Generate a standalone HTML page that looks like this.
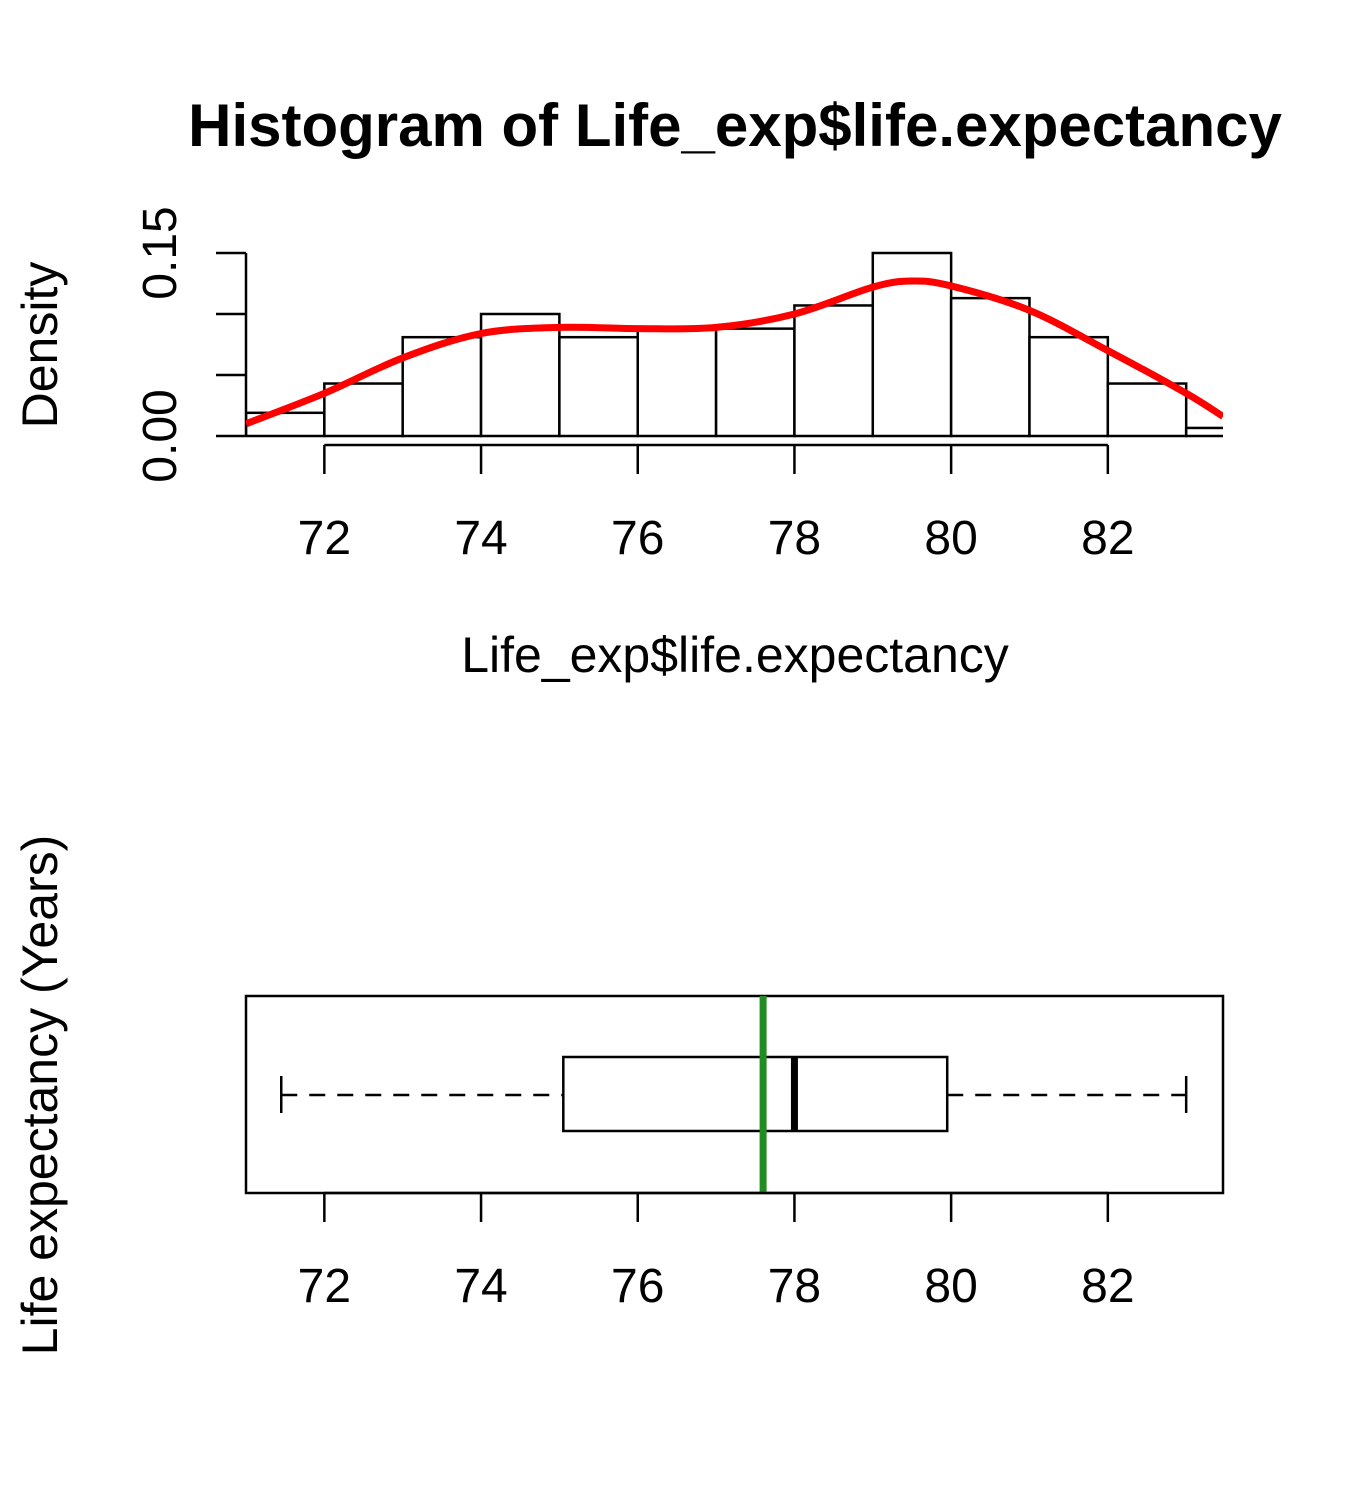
<!DOCTYPE html>
<html><head><meta charset="utf-8"><style>
html,body{margin:0;padding:0;background:#fff;}
svg{display:block;font-family:"Liberation Sans",Arial,sans-serif;}
</style></head><body>
<svg id="chart" width="1350" height="1500" viewBox="0 0 1350 1500" xmlns="http://www.w3.org/2000/svg">
<text x="735" y="146" font-size="60" font-weight="bold" text-anchor="middle">Histogram of Life_exp$life.expectancy</text>
<text x="735" y="672" font-size="50" text-anchor="middle">Life_exp$life.expectancy</text>
<text transform="translate(57,345) rotate(-90)" font-size="50" text-anchor="middle">Density</text>
<text transform="translate(57,1095) rotate(-90)" font-size="50" text-anchor="middle">Life expectancy (Years)</text>
<g id="hist"></g>
<g id="box"></g>
</svg>
<script>
const binStarts=[71,72,73,74,75,76,77,78,79,80,81,82,83];
const densities=[0.019,0.043,0.081,0.10,0.081,0.087,0.088,0.107,0.15,0.113,0.081,0.043,0.0066];
const curveX=[71,72,73,74,75,76,77,78,79,79.5,80,81,82,83,83.47];
const curveY=[0.010,0.035,0.064,0.084,0.089,0.088,0.089,0.100,0.122,0.127,0.123,0.103,0.070,0.035,0.016];
const xTicks=[72,74,76,78,80,82];
const yTicks=[0,0.05,0.10,0.15];
const yTickLabels=["0.00","0.15"];
const boxStats=[71.45,75.05,78.0,79.95,83.0];
const meanValue=77.6;

const NS="http://www.w3.org/2000/svg";
const X0=71,X1=83.47,PX0=246,PX1=1223;
const x=v=>PX0+(v-X0)*(PX1-PX0)/(X1-X0);
const y=d=>436-d*1220;
function mk(tag,attrs,parent){const e=document.createElementNS(NS,tag);for(const k in attrs)e.setAttribute(k,attrs[k]);parent.appendChild(e);return e;}
const H=document.getElementById('hist'),B=document.getElementById('box');
const clip=mk('clipPath',{id:'pc'},document.getElementById('chart'));
mk('rect',{x:PX0,y:0,width:PX1-PX0,height:1500},clip);
const bars=mk('g',{'clip-path':'url(#pc)'},H);
binStarts.forEach((s,i)=>{const r=mk('rect',{x:x(s),y:y(densities[i]),width:x(s+1)-x(s),height:y(0)-y(densities[i]),fill:'#fff',stroke:'#000','stroke-width':2.5},bars);

});
let ya=mk('line',{x1:PX0,x2:PX0,y1:y(0),y2:y(0.15),stroke:'#000','stroke-width':2.5},H);

yTicks.forEach(t=>{mk('line',{x1:216,x2:PX0,y1:y(t),y2:y(t),stroke:'#000','stroke-width':2.5},H);});
[0,0.15].forEach((t,i)=>{const tx=mk('text',{transform:`translate(176,${y(t)}) rotate(-90)`,'font-size':48,'text-anchor':'middle'},H);tx.textContent=yTickLabels[i];
});
function xAxis(g,ly,labY){
 const a=mk('line',{x1:x(xTicks[0]),x2:x(xTicks[xTicks.length-1]),y1:ly,y2:ly,stroke:'#000','stroke-width':2.5},g);
 
 xTicks.forEach(t=>{mk('line',{x1:x(t),x2:x(t),y1:ly,y2:ly+29,stroke:'#000','stroke-width':2.5},g);
  const tx=mk('text',{x:x(t),y:labY,'font-size':48,'text-anchor':'middle'},g);tx.textContent=t;
  });
}
xAxis(H,445,554);
const pts=curveX.map((v,i)=>[x(v),y(curveY[i])]);
let d='M'+pts[0][0]+','+pts[0][1];
for(let i=0;i<pts.length-1;i++){const p0=pts[Math.max(0,i-1)],p1=pts[i],p2=pts[i+1],p3=pts[Math.min(pts.length-1,i+2)];
 d+=` C${p1[0]+(p2[0]-p0[0])/6},${p1[1]+(p2[1]-p0[1])/6} ${p2[0]-(p3[0]-p1[0])/6},${p2[1]-(p3[1]-p1[1])/6} ${p2[0]},${p2[1]}`;}
const cg=mk('g',{'clip-path':'url(#pc)'},H);
const p=mk('path',{d:d,fill:'none',stroke:'#ff0000','stroke-width':7,'stroke-linejoin':'round'},cg);

const frame=mk('rect',{x:PX0,y:996,width:PX1-PX0,height:197,fill:'none',stroke:'#000','stroke-width':2.5},B);

const wy=1095;
mk('line',{x1:x(boxStats[0]),x2:x(boxStats[1]),y1:wy,y2:wy,stroke:'#000','stroke-width':2.5,'stroke-dasharray':'16,12'},B);
mk('line',{x1:x(boxStats[3]),x2:x(boxStats[4]),y1:wy,y2:wy,stroke:'#000','stroke-width':2.5,'stroke-dasharray':'16,12'},B);
mk('line',{x1:x(boxStats[0]),x2:x(boxStats[0]),y1:1076,y2:1113,stroke:'#000','stroke-width':2.5},B);
mk('line',{x1:x(boxStats[4]),x2:x(boxStats[4]),y1:1076,y2:1113,stroke:'#000','stroke-width':2.5},B);
const bx=mk('rect',{x:x(boxStats[1]),y:1057,width:x(boxStats[3])-x(boxStats[1]),height:74,fill:'#fff',stroke:'#000','stroke-width':2.5},B);

const md=mk('line',{x1:x(boxStats[2]),x2:x(boxStats[2]),y1:1057,y2:1131,stroke:'#000','stroke-width':7},B);

const mn=mk('line',{x1:x(meanValue),x2:x(meanValue),y1:996,y2:1193,stroke:'#228B22','stroke-width':7},B);

xAxis(B,1193,1302);
</script>
</body></html>
